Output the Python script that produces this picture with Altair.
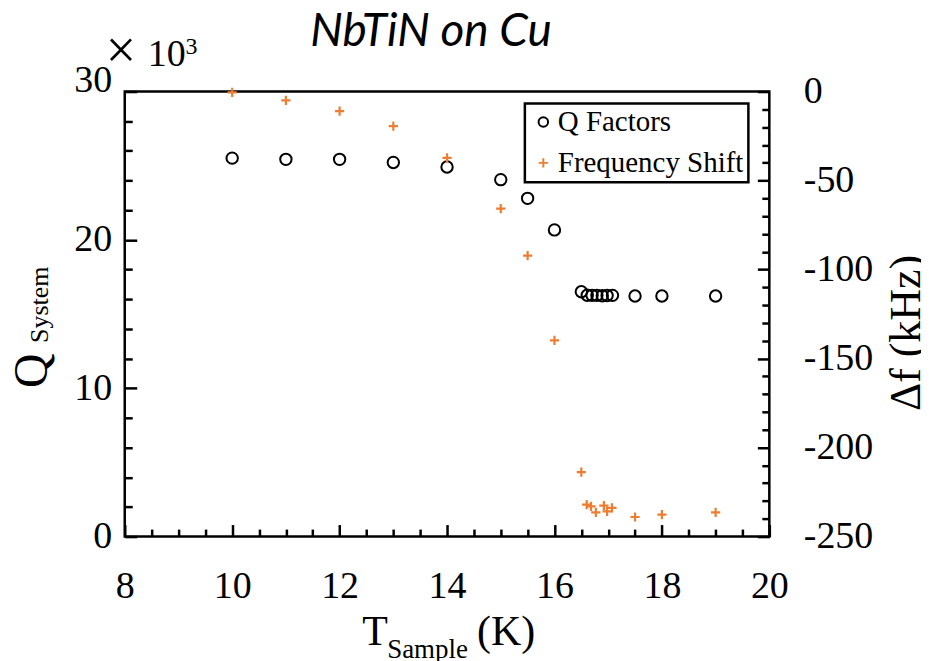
import altair as alt
import pandas as pd

# ---- data ----
t_q = [10, 11, 12, 13, 14, 15, 15.5, 16, 16.5, 16.61, 16.7, 16.79, 16.89, 16.98, 17.08, 17.5, 18, 19]
q_factor = [25510, 25430, 25430, 25220, 24910, 24060, 22800, 20670, 16500, 16270, 16260,
            16260, 16230, 16250, 16260, 16220, 16220, 16220]
t_f = [10, 11, 12, 13, 14, 15, 15.5, 16, 16.5, 16.6, 16.68, 16.77, 16.92, 16.98, 17.07, 17.5, 18, 19]
freq_shift = [-0.5, -5.0, -11.0, -19.4, -37.3, -65.8, -92.2, -139.8, -213.8, -232.1, -233.0,
              -236.4, -232.6, -235.8, -233.9, -239.0, -237.7, -236.4]

series_names = ["Q Factors", "Frequency Shift"]
series_colors = ["black", "#ED7D31"]
series_shapes = ["circle", "M-1,0H1M0,-1V1"]

x_major = [8, 10, 12, 14, 16, 18, 20]
x_minor = [8.5, 9, 9.5, 10.5, 11, 11.5, 12.5, 13, 13.5, 14.5, 15, 15.5,
           16.5, 17, 17.5, 18.5, 19, 19.5]
q_major = [0, 10000, 20000, 30000]
q_minor = [2000, 4000, 6000, 8000, 12000, 14000, 16000, 18000, 22000, 24000, 26000, 28000]
f_major = [-250, -200, -150, -100, -50, 0]
f_minor = [-240, -230, -220, -210, -190, -180, -170, -160, -140, -130, -120, -110,
           -90, -80, -70, -60, -40, -30, -20, -10]

df_q = pd.DataFrame({"T": t_q, "value": q_factor, "series": series_names[0]})
df_f = pd.DataFrame({"T": t_f, "value": freq_shift, "series": series_names[1]})
one = pd.DataFrame({"k": [0]})

SERIF = "Liberation Serif"
MAJ, MIN = 12, 7.5


def axis(values, orient, size, labels=True, pad=0, **kw):
    return alt.Axis(values=values, orient=orient, tickSize=size, offset=-size, domain=False,
                    grid=False, ticks=True, tickColor="black", tickWidth=2.5, labels=labels,
                    labelFont=SERIF, labelFontSize=38, labelColor="black", labelPadding=pad,
                    labelFlush=False, labelOverlap=False, title=None, **kw)


xs = alt.Scale(domain=[8, 20], nice=False, zero=False)
qs = alt.Scale(domain=[0, 30000], nice=False, zero=False)
fs = alt.Scale(domain=[-250, 0], nice=False, zero=False)

leg = alt.Legend(title=None, orient="none", legendX=401, legendY=12, strokeColor="black",
                 fillColor="white", padding=4, labelFont=SERIF, labelFontSize=29,
                 labelColor="black", labelOffset=0, symbolSize=90, symbolStrokeWidth=2,
                 symbolOffset=0, rowPadding=11, labelLimit=400)
color = alt.Color("series:N", scale=alt.Scale(domain=series_names, range=series_colors), legend=leg)
shape = alt.Shape("series:N", scale=alt.Scale(domain=series_names, range=series_shapes), legend=leg)

q_layer = alt.Chart(df_q).mark_point(filled=False, size=130, strokeWidth=2, opacity=1).encode(
    x=alt.X("T:Q", scale=xs, axis=axis(x_major, "bottom", MAJ, pad=31, format="d")),
    y=alt.Y("value:Q", scale=qs, axis=axis(
        q_major, "left", MAJ, pad=13, labelExpr="'' + (datum.value / 1000)",
        labelBaseline={"condition": {"test": "datum.value >= 30000", "value": "alphabetic"},
                       "value": "middle"})),
    color=color, shape=shape)

f_layer = alt.Chart(df_f).mark_point(filled=False, size=85, strokeWidth=2.2, opacity=1).encode(
    x=alt.X("T:Q", scale=xs, axis=axis(x_minor, "bottom", MIN, labels=False)),
    y=alt.Y("value:Q", scale=fs, axis=axis(f_major, "right", MAJ, pad=34, labelAlign="left",
                                           labelExpr="'' + datum.value")),
    color=color, shape=shape)

q_minor_layer = alt.Chart(df_q).mark_point(opacity=0).encode(
    x=alt.X("T:Q", scale=xs, axis=None),
    y=alt.Y("value:Q", scale=qs, axis=axis(q_minor, "left", MIN, labels=False)))

f_minor_layer = alt.Chart(df_f).mark_point(opacity=0).encode(
    x=alt.X("T:Q", scale=xs, axis=None),
    y=alt.Y("value:Q", scale=fs, axis=axis(f_minor, "right", MIN, labels=False)))


def txt(s, x, y, size, font=SERIF, angle=0, align="left", style="normal"):
    return alt.Chart(one).mark_text(font=font, fontSize=size, align=align, baseline="alphabetic",
                                    angle=angle, color="black", fontStyle=style).encode(
        x=alt.value(x), y=alt.value(y), text=alt.value(s))


texts = [
    txt("NbTiN on Cu", 307, -46, 46, font="Lato", align="center", style="italic"),
    txt("×", -19, -24, 54),
    txt("10", 23, -26, 38),
    txt("3", 61, -38, 24),
    txt("T", 238, 555, 42),
    txt("Sample", 263, 568, 27),
    txt("(K)", 353, 555, 42),
    txt("Q", -78, 297, 48, angle=270),
    txt("System", -77, 252, 26, angle=270),
    txt("Δf (kHz)", 797, 242, 44, angle=270, align="center"),
]

chart = alt.layer(q_minor_layer, f_minor_layer, q_layer, f_layer, *texts).resolve_scale(
    y="independent").resolve_axis(x="independent", y="independent").properties(
    width=646, height=446,
    autosize=alt.AutoSizeParams(type="none"),
    padding={"left": 117, "top": 83, "right": 152, "bottom": 124},
    background="white",
).configure_view(stroke="black", strokeWidth=2.5).configure_legend(strokeWidth=2.5)

chart.save("out.html", embed_options={"renderer": "svg", "actions": False})
